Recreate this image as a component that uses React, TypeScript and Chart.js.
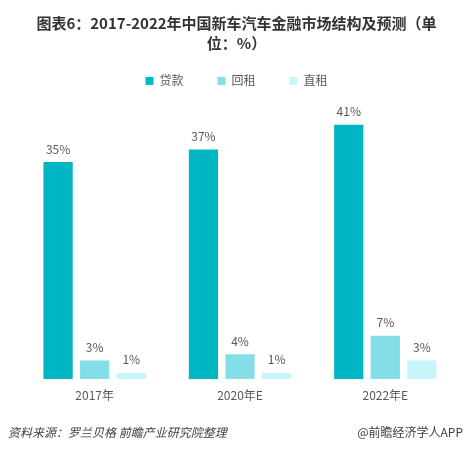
import React, { useEffect, useRef } from "react";
import { Chart, registerables } from "chart.js";

Chart.register(...registerables);

const categories = ["2017年", "2020年E", "2022年E"];
const seriesNames = ["贷款", "回租", "直租"];
const loanValues = [35, 37, 41];
const leasebackValues = [3, 4, 7];
const directLeaseValues = [1, 1, 3];
const seriesColors = ["#00B6C2", "#83DEE7", "#C7F5FA"];
const titleLines = ["图表6：2017-2022年中国新车汽车金融市场结构及预测（单", "位：%）"];
const sourceText = "资料来源：罗兰贝格 前瞻产业研究院整理";
const brandText = "@前瞻经济学人APP";

const FONT = "'Noto Sans CJK SC', 'Noto Sans', sans-serif";
const YMAX = 45.5;

const dataLabelPlugin = {
  id: "dataLabels",
  afterDatasetsDraw(chart: any) {
    const ctx = chart.ctx;
    ctx.save();
    ctx.font = `12px ${FONT}`;
    ctx.fillStyle = "#595959";
    ctx.textAlign = "center";
    ctx.textBaseline = "bottom";
    chart.data.datasets.forEach((ds: any, di: number) => {
      const meta = chart.getDatasetMeta(di);
      meta.data.forEach((el: any, i: number) => {
        ctx.fillText(`${ds.data[i]}%`, el.x, el.y - 7);
      });
    });
    ctx.restore();
  },
};

export default function App() {
  const ref = useRef<HTMLCanvasElement>(null);
  useEffect(() => {
    if (!ref.current) return;
    const chart = new Chart(ref.current, {
      type: "bar",
      data: {
        labels: categories,
        datasets: [loanValues, leasebackValues, directLeaseValues].map((d, i) => ({
          label: seriesNames[i],
          data: d,
          backgroundColor: seriesColors[i],
          borderWidth: 0,
          categoryPercentage: 0.755,
          barPercentage: 0.8,
        })),
      },
      options: {
        responsive: false,
        animation: false,
        layout: { padding: { left: 15, right: 15, top: 0, bottom: 39.5 } },
        plugins: {
          title: {
            display: true,
            text: titleLines,
            color: "#333333",
            font: { family: FONT, size: 15, weight: "bold", lineHeight: 1.33 },
            padding: { top: 13, bottom: -12 },
          },
          legend: {
            display: true,
            labels: {
              boxWidth: 8,
              boxHeight: 8,
              padding: 34,
              color: "#595959",
              font: { family: FONT, size: 12 },
            },
          },
          tooltip: { enabled: false },
        },
        scales: {
          x: {
            grid: { display: false, drawTicks: false },
            border: { display: false },
            ticks: { color: "#595959", font: { family: FONT, size: 12 }, padding: 9 },
          },
          y: {
            min: 0,
            max: YMAX,
            grid: { display: false, drawTicks: false },
            border: { display: false },
            ticks: { display: false },
            afterFit: (s: any) => {
              s.width = 7;
            },
          },
        },
      },
      plugins: [dataLabelPlugin],
    });
    return () => chart.destroy();
  }, []);

  return (
    <div style={{ position: "fixed", left: 0, top: 0, width: 473, height: 451, background: "#fff" }}>
      <canvas ref={ref} width={473} height={451} style={{ width: 473, height: 451 }} />
      <div
        style={{
          position: "absolute",
          left: 8,
          top: 424,
          fontFamily: FONT,
          fontSize: 12,
          fontStyle: "italic",
          color: "#404040",
          lineHeight: "16px",
        }}
      >
        {sourceText}
      </div>
      <div
        style={{
          position: "absolute",
          right: 10,
          top: 424,
          fontFamily: FONT,
          fontSize: 12,
          color: "#404040",
          lineHeight: "16px",
        }}
      >
        {brandText}
      </div>
    </div>
  );
}
